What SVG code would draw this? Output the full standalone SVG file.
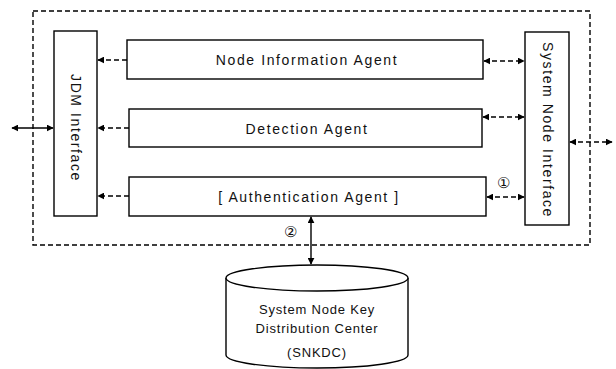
<svg xmlns="http://www.w3.org/2000/svg" width="616" height="369" viewBox="0 0 616 369">
<defs>
<marker id="ah" viewBox="0 0 10 10" refX="9" refY="5" markerWidth="7" markerHeight="7" orient="auto-start-reverse" markerUnits="userSpaceOnUse"><path d="M0,0 L10,5 L0,10 z" fill="#000"/></marker>
</defs>
<style>
.box{fill:#fff;stroke:#000;stroke-width:1.4}
.t{font-family:"Liberation Sans",Arial,sans-serif;font-size:14px;letter-spacing:1.6px;fill:#111;text-anchor:middle}
.s{font-family:"Liberation Sans",Arial,sans-serif;font-size:13px;letter-spacing:0.8px;fill:#111;text-anchor:middle}
.n{font-family:"Liberation Sans",Arial,sans-serif;font-size:15px;fill:#111;text-anchor:middle}
.d{fill:none;stroke:#000;stroke-width:1.4;stroke-dasharray:5,3}
.c{fill:none;stroke:#000;stroke-width:1.4}
</style>
<rect x="33" y="11" width="557" height="234" class="d"/>
<g id="jdm"><rect x="54" y="31" width="43" height="185" class="box"/><text class="t" transform="translate(75,128) rotate(90)" dominant-baseline="middle">JDM Interface</text></g>
<g id="sni"><rect x="525" y="32" width="44" height="193" class="box"/><text class="t" transform="translate(547,130) rotate(90)" dominant-baseline="middle">System Node Interface</text></g>
<g id="nia"><rect x="127" y="40" width="356" height="39" class="box"/><text class="t" x="307" y="65">Node Information Agent</text></g>
<g id="da"><rect x="129" y="109" width="353" height="38" class="box"/><text class="t" x="307" y="134">Detection Agent</text></g>
<g id="aa"><rect x="129" y="177" width="357" height="39" class="box"/><text class="t" x="309" y="202">[ Authentication Agent ]</text></g>
<g id="kdc">
<path d="M226,278 L226,355 A91,13 0 0 0 408,355 L408,278" class="box"/>
<ellipse cx="317" cy="278" rx="91" ry="13" class="box"/>
<text class="s" x="317" y="314">System Node Key</text>
<text class="s" x="317" y="333">Distribution Center</text>
<text class="s" x="317" y="357">(SNKDC)</text>
</g>
<g id="connectors">
<line x1="127" y1="60" x2="98" y2="60" class="d" marker-end="url(#ah)"/>
<line x1="129" y1="128" x2="98" y2="128" class="d" marker-end="url(#ah)"/>
<line x1="129" y1="196" x2="98" y2="196" class="d" marker-end="url(#ah)"/>
<line x1="484" y1="61" x2="524" y2="61" class="d" marker-start="url(#ah)" marker-end="url(#ah)"/>
<line x1="483" y1="117" x2="524" y2="117" class="d" marker-start="url(#ah)" marker-end="url(#ah)"/>
<line x1="487" y1="197" x2="524" y2="197" class="d" marker-start="url(#ah)" marker-end="url(#ah)"/>
<line x1="12" y1="128" x2="53" y2="128" class="c" marker-start="url(#ah)" marker-end="url(#ah)"/>
<line x1="570" y1="142" x2="612" y2="142" class="d" marker-start="url(#ah)" marker-end="url(#ah)"/>
<line x1="311" y1="217" x2="311" y2="264" class="c" marker-start="url(#ah)" marker-end="url(#ah)"/>
<text class="n" x="503" y="188">①</text>
<text class="n" x="290" y="237">②</text>
</g>
</svg>
